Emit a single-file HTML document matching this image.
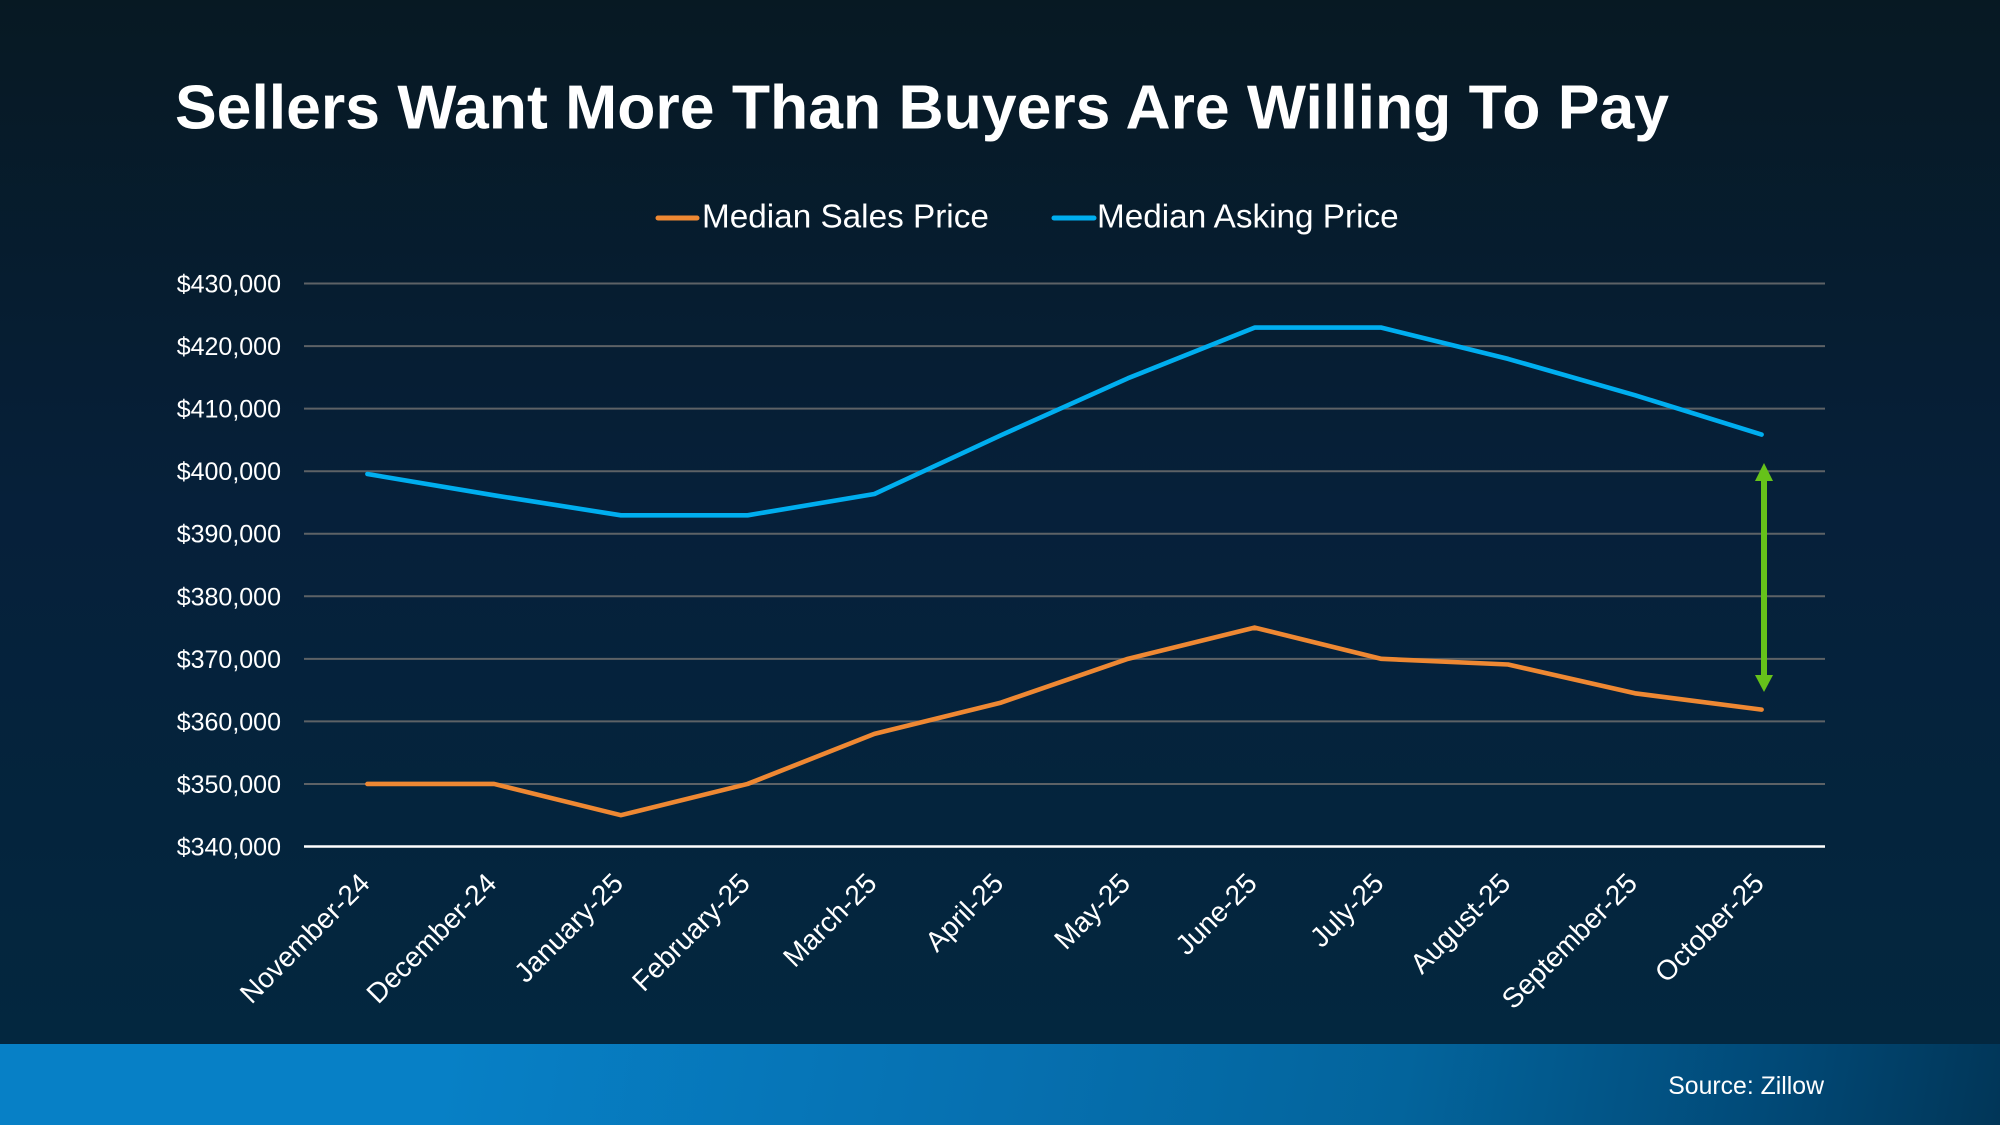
<!DOCTYPE html>
<html>
<head>
<meta charset="utf-8">
<style>
  html, body { margin:0; padding:0; }
  body { width:2000px; height:1125px; overflow:hidden; position:relative;
         background: linear-gradient(180deg, #071923 0%, #06203a 45%, #03273f 92%);
         font-family: "Liberation Sans", Arial, sans-serif; }
  .footer { position:absolute; left:0; top:1044px; width:2000px; height:81px;
            background: linear-gradient(100deg, #0780c6 0%, #0780c6 22%, #0670b0 50%, #03649c 70%, #014a78 88%, #013658 100%); }
  svg { position:absolute; left:0; top:0; }
</style>
</head>
<body>
<div class="footer"></div>
<svg width="2000" height="1125" viewBox="0 0 2000 1125" xmlns="http://www.w3.org/2000/svg" font-family="Liberation Sans, Arial, sans-serif">
  <!-- Title -->
  <text x="175" y="128.5" fill="#ffffff" font-size="62.5" font-weight="bold">Sellers Want More Than Buyers Are Willing To Pay</text>

  <!-- Legend -->
  <line x1="658" y1="218" x2="697" y2="218" stroke="#ee8833" stroke-width="5" stroke-linecap="round"/>
  <text x="702" y="227.5" fill="#ffffff" font-size="33.3">Median Sales Price</text>
  <line x1="1054" y1="218" x2="1094" y2="218" stroke="#00aeef" stroke-width="5" stroke-linecap="round"/>
  <text x="1097" y="227.5" fill="#ffffff" font-size="33.3">Median Asking Price</text>

  <!-- Gridlines -->
  <g stroke="#5d6266" stroke-width="2">
    <line x1="304" y1="283.55" x2="1825" y2="283.55"/>
    <line x1="304" y1="346.1" x2="1825" y2="346.1"/>
    <line x1="304" y1="408.65" x2="1825" y2="408.65"/>
    <line x1="304" y1="471.2" x2="1825" y2="471.2"/>
    <line x1="304" y1="533.75" x2="1825" y2="533.75"/>
    <line x1="304" y1="596.3" x2="1825" y2="596.3"/>
    <line x1="304" y1="658.85" x2="1825" y2="658.85"/>
    <line x1="304" y1="721.4" x2="1825" y2="721.4"/>
    <line x1="304" y1="783.95" x2="1825" y2="783.95"/>
  </g>
  <line x1="304" y1="846.5" x2="1825" y2="846.5" stroke="#ffffff" stroke-width="2.5"/>

  <!-- Y labels -->
  <g fill="#ffffff" font-size="25" text-anchor="end">
    <text x="281" y="292.5">$430,000</text>
    <text x="281" y="355">$420,000</text>
    <text x="281" y="417.6">$410,000</text>
    <text x="281" y="480.2">$400,000</text>
    <text x="281" y="542.7">$390,000</text>
    <text x="281" y="605.3">$380,000</text>
    <text x="281" y="667.8">$370,000</text>
    <text x="281" y="730.4">$360,000</text>
    <text x="281" y="792.9">$350,000</text>
    <text x="281" y="855.5">$340,000</text>
  </g>

  <!-- X labels -->
  <g fill="#ffffff" font-size="28" text-anchor="end">
    <text x="371.4" y="885" transform="rotate(-45 371.4 885)">November-24</text>
    <text x="498.1" y="885" transform="rotate(-45 498.1 885)">December-24</text>
    <text x="624.9" y="885" transform="rotate(-45 624.9 885)">January-25</text>
    <text x="751.6" y="885" transform="rotate(-45 751.6 885)">February-25</text>
    <text x="878.4" y="885" transform="rotate(-45 878.4 885)">March-25</text>
    <text x="1005.1" y="885" transform="rotate(-45 1005.1 885)">April-25</text>
    <text x="1131.9" y="885" transform="rotate(-45 1131.9 885)">May-25</text>
    <text x="1258.6" y="885" transform="rotate(-45 1258.6 885)">June-25</text>
    <text x="1385.4" y="885" transform="rotate(-45 1385.4 885)">July-25</text>
    <text x="1512.1" y="885" transform="rotate(-45 1512.1 885)">August-25</text>
    <text x="1638.9" y="885" transform="rotate(-45 1638.9 885)">September-25</text>
    <text x="1765.6" y="885" transform="rotate(-45 1765.6 885)">October-25</text>
  </g>

  <!-- Median Asking Price -->
  <polyline fill="none" stroke="#00aeef" stroke-width="4.6" stroke-linejoin="round" stroke-linecap="round"
    points="367.4,474.0 494.1,495.3 620.9,515.3 747.6,515.3 874.4,494.0 1001.1,435.2 1127.9,378.3 1254.6,327.6 1381.4,327.6 1508.1,358.9 1634.9,395.2 1761.6,434.6"/>

  <!-- Median Sales Price -->
  <polyline fill="none" stroke="#ee8833" stroke-width="4.6" stroke-linejoin="round" stroke-linecap="round"
    points="367.4,783.95 494.1,783.95 620.9,815.2 747.6,783.95 874.4,733.9 1001.1,702.6 1127.9,658.85 1254.6,627.6 1381.4,658.85 1508.1,664.5 1634.9,693.3 1761.6,709.6"/>

  <!-- Green double arrow -->
  <g fill="#66c21a">
    <rect x="1761" y="478" width="6" height="200"/>
    <polygon points="1764,463 1773,481 1755,481"/>
    <polygon points="1764,692 1773,675 1755,675"/>
  </g>

  <!-- Source -->
  <text x="1824" y="1094" fill="#ffffff" font-size="24.8" text-anchor="end">Source: Zillow</text>
</svg>
</body>
</html>
